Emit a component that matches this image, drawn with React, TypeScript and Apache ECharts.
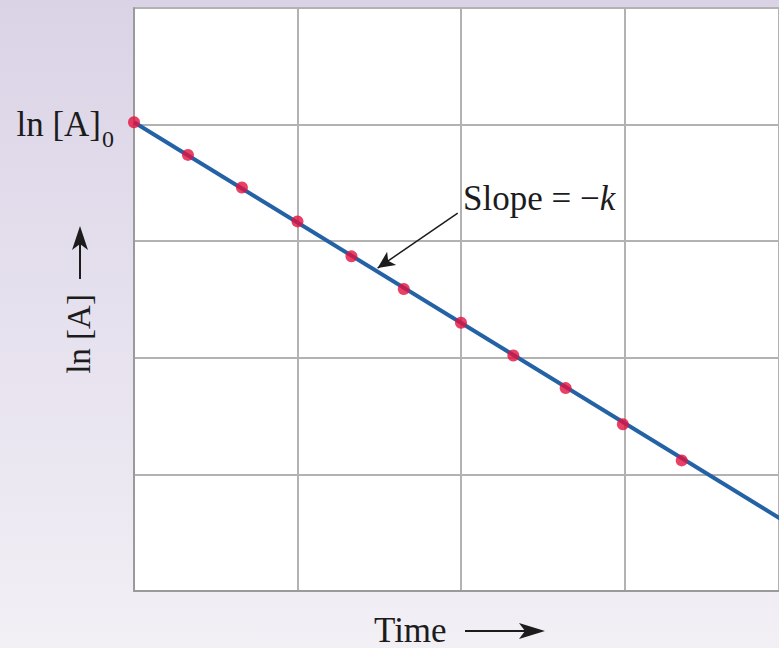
import React, { useEffect, useRef } from "react";
import * as echarts from "echarts";

// data
const timeVals = [0, 0.33, 0.66, 1.0, 1.33, 1.65, 2.0, 2.32, 2.64, 2.99, 3.35];
const lnAVals = [4.02, 3.74, 3.46, 3.17, 2.87, 2.59, 2.3, 2.02, 1.74, 1.43, 1.12];
const fitX = [0, 4];
const fitY = [4.02, 0.58];
const slopeArrowFrom = [1.98, 3.24];
const slopeArrowTo = [1.49, 2.77];
// the plot runs a little past the right edge of the picture
const xRange = [0, 3.945];
const yRange = [0, 5];

const SERIF = "'Liberation Serif', 'DejaVu Serif', serif";
const INK = "#1c1c1c";

export default function App() {
  const ref = useRef<HTMLDivElement>(null);
  useEffect(() => {
    if (!ref.current) return;
    const chart = echarts.init(ref.current, null, { renderer: "svg" });
    const axisCommon = {
      type: "value",
      axisLabel: { show: false },
      axisTick: { show: false },
      axisLine: { show: true, lineStyle: { color: "#9a9a9a", width: 2 } },
      splitLine: { show: true, lineStyle: { color: "#b2b2b2", width: 2 } },
    };
    chart.setOption({
      animation: false,
      backgroundColor: {
        type: "linear",
        x: 0,
        y: 0,
        x2: 0,
        y2: 1,
        colorStops: [
          { offset: 0, color: "#dad3e6" },
          { offset: 0.5, color: "#e6e1ee" },
          { offset: 1, color: "#f2eff5" },
        ],
      },
      grid: {
        left: 134,
        top: 8,
        right: 0,
        bottom: 57,
        show: true,
        backgroundColor: "#ffffff",
        borderWidth: 0,
      },
      xAxis: {
        ...axisCommon,
        min: xRange[0],
        max: xRange[1],
        interval: 1,
      },
      yAxis: {
        ...axisCommon,
        min: yRange[0],
        max: yRange[1],
        interval: 1,
      },
      series: [
        {
          type: "line",
          data: fitX.map((x, i) => [x, fitY[i]]),
          showSymbol: false,
          symbol: "none",
          clip: true,
          lineStyle: { color: "#2462a6", width: 4 },
          z: 2,
          silent: true,
          markLine: {
            silent: true,
            symbol: ["none", "arrow"],
            symbolSize: [12, 17],
            lineStyle: { color: INK, width: 1.5, type: "solid" },
            label: { show: false },
            data: [[{ coord: slopeArrowFrom }, { coord: slopeArrowTo }]],
          },
        },
        {
          type: "scatter",
          data: timeVals.map((x, i) => [x, lnAVals[i]]),
          symbol: "circle",
          symbolSize: 12,
          itemStyle: { color: "#e2123f" },
          z: 3,
        },
      ],
      graphic: [
        {
          type: "text",
          x: 101,
          y: 124,
          style: {
            text: "ln [A]",
            font: `35px ${SERIF}`,
            fill: INK,
            textAlign: "right",
            textVerticalAlign: "middle",
          },
        },
        {
          type: "text",
          x: 102,
          y: 139,
          style: {
            text: "0",
            font: `24px ${SERIF}`,
            fill: INK,
            textAlign: "left",
            textVerticalAlign: "middle",
          },
        },
        {
          type: "text",
          x: 463,
          y: 198,
          style: {
            text: "{n|Slope = \u2212}{k|k}",
            textAlign: "left",
            textVerticalAlign: "middle",
            rich: {
              n: { font: `35px ${SERIF}`, fill: INK },
              k: { font: `italic 35px ${SERIF}`, fill: INK },
            },
          },
        },
        {
          type: "text",
          x: 374,
          y: 630,
          style: {
            text: "Time",
            font: `35px ${SERIF}`,
            fill: INK,
            textAlign: "left",
            textVerticalAlign: "middle",
          },
        },
        {
          type: "line",
          shape: { x1: 465, y1: 631, x2: 528, y2: 631 },
          style: { stroke: INK, lineWidth: 2 },
        },
        {
          type: "polygon",
          shape: { points: [[545, 631], [519, 623], [525, 631], [519, 639]] },
          style: { fill: INK },
        },
        {
          type: "text",
          x: 79,
          y: 334,
          rotation: Math.PI / 2,
          style: {
            text: "ln [A]",
            font: `33px ${SERIF}`,
            fill: INK,
            textAlign: "center",
            textVerticalAlign: "middle",
          },
        },
        {
          type: "line",
          shape: { x1: 80, y1: 279, x2: 80, y2: 240 },
          style: { stroke: INK, lineWidth: 2 },
        },
        {
          type: "polygon",
          shape: { points: [[80, 226], [72, 250], [80, 244], [88, 250]] },
          style: { fill: INK },
        },
      ],
    });
    return () => chart.dispose();
  }, []);
  return (
    <div
      ref={ref}
      style={{ position: "absolute", left: 0, top: 0, width: 779, height: 648 }}
    />
  );
}
